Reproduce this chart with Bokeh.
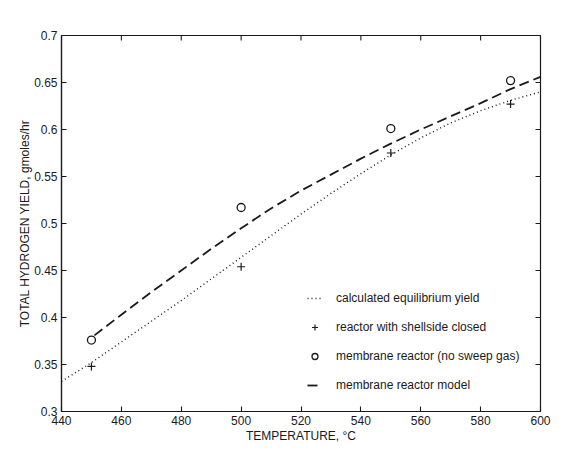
import math
from bokeh.plotting import figure
from bokeh.models import Legend, LegendItem, Title, FixedTicker, Range1d
from bokeh.embed import file_html
from bokeh.resources import INLINE

# ---- data ----
temp_equil = [440, 450, 460, 470, 480, 490, 500, 510, 520, 530, 540, 550, 560, 570, 580, 590, 600]
equil_yield = [0.332, 0.352, 0.374, 0.396, 0.418, 0.441, 0.464, 0.487, 0.510, 0.532, 0.553,
               0.573, 0.591, 0.607, 0.620, 0.631, 0.640]

temp_model = [451, 460, 470, 480, 490, 500, 510, 520, 530, 540, 550, 560, 570, 580, 590, 600]
model_yield = [0.381, 0.403, 0.427, 0.450, 0.473, 0.495, 0.516, 0.535, 0.552, 0.569, 0.585,
               0.600, 0.614, 0.628, 0.643, 0.656]

temp_exp = [450, 500, 550, 590]
shellside_closed = [0.348, 0.454, 0.575, 0.627]
membrane_no_sweep = [0.376, 0.517, 0.601, 0.652]

x_ticks = [440, 460, 480, 500, 520, 540, 560, 580, 600]
y_ticks = [0.3, 0.35, 0.4, 0.45, 0.5, 0.55, 0.6, 0.65, 0.7]
y_tick_labels = ["0.3", "0.35", "0.4", "0.45", "0.5", "0.55", "0.6", "0.65", "0.7"]

FONT = "Liberation Sans"
INK = "#1a1a1a"
X_MIN, X_MAX = 440, 600
Y_MIN, Y_MAX = 0.3, 0.7

p = figure(width=572, height=468, x_range=Range1d(X_MIN, X_MAX), y_range=Range1d(Y_MIN, Y_MAX),
           output_backend="svg", toolbar_location=None,
           min_border_left=61, min_border_right=32, min_border_top=35, min_border_bottom=57)
p.background_fill_color = "white"
p.border_fill_color = "white"
p.outline_line_color = INK
p.outline_line_width = 1.2
p.xgrid.visible = False
p.ygrid.visible = False

for ax in (p.xaxis[0], p.yaxis[0]):
    ax.axis_line_color = INK
    ax.axis_line_width = 1.2
    ax.major_tick_line_color = INK
    ax.major_tick_line_width = 1.1
    ax.major_tick_in = 5
    ax.major_tick_out = 0
    ax.minor_tick_line_color = None
    ax.major_label_text_font = FONT
    ax.major_label_text_color = INK
    ax.major_label_text_font_size = "12px"
    ax.major_label_standoff = 4

p.xaxis.ticker = FixedTicker(ticks=x_ticks)
p.yaxis.ticker = FixedTicker(ticks=y_ticks)
p.yaxis.major_label_overrides = {t: l for t, l in zip(y_ticks, y_tick_labels)}
p.xaxis.axis_label = "TEMPERATURE, \u00b0C"
p.xaxis.axis_label_text_font = FONT
p.xaxis.axis_label_text_font_size = "12px"
p.xaxis.axis_label_text_font_style = "normal"
p.xaxis.axis_label_text_color = INK
p.xaxis.axis_label_standoff = 1

# y title as a side title so it can sit a little above centre, as in the reference
ytitle = Title(text="TOTAL HYDROGEN YIELD, gmoles/hr", align="center", offset=20,
               text_font=FONT, text_font_size="12px", text_font_style="normal",
               text_color=INK, standoff=0)
p.add_layout(ytitle, "left")

# inward ticks on the top and right frame edges (half of each dash is clipped by the frame)
p.scatter(x_ticks, [Y_MAX] * len(x_ticks), marker="dash", angle=math.pi / 2, size=10,
          line_color=INK, line_width=1.1)
p.scatter([X_MAX] * len(y_ticks), y_ticks, marker="dash", size=10,
          line_color=INK, line_width=1.1)

r_eq = p.line(temp_equil, equil_yield, line_color=INK, line_width=1.4, line_dash="1 3")
r_plus = p.scatter(temp_exp, shellside_closed, marker="cross", size=8, line_color=INK, line_width=1.2)
r_circ = p.scatter(temp_exp, membrane_no_sweep, marker="circle", size=8, fill_color=None,
                   line_color=INK, line_width=1.3)
r_model = p.line(temp_model, model_yield, line_color=INK, line_width=1.8, line_dash="10 5")

legend = Legend(items=[
    LegendItem(label="calculated equilibrium yield", renderers=[r_eq]),
    LegendItem(label="reactor with shellside closed", renderers=[r_plus]),
    LegendItem(label="membrane reactor (no sweep gas)", renderers=[r_circ]),
    LegendItem(label="membrane reactor model", renderers=[r_model]),
], location=(246, 16))
legend.border_line_alpha = 0
legend.background_fill_alpha = 0
legend.padding = 0
legend.margin = 0
legend.spacing = 9
legend.glyph_width = 15
legend.glyph_height = 20
legend.label_height = 20
legend.label_standoff = 14
legend.label_text_font = FONT
legend.label_text_font_size = "12px"
legend.label_text_color = INK
legend.label_text_baseline = "middle"
p.add_layout(legend)

open("out.html", "w").write(file_html(p, INLINE))
